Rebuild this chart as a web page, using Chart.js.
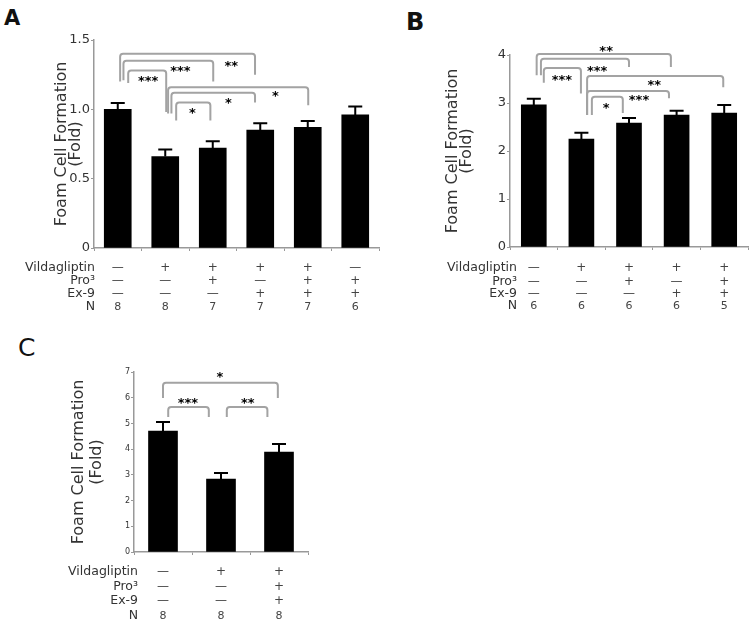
<!DOCTYPE html>
<html>
<head>
<meta charset="utf-8">
<script src="https://cdn.jsdelivr.net/npm/chart.js@4.4.1/dist/chart.umd.min.js"></script>
<style>
  body { margin: 0; background: #fff; width: 755px; height: 627px; position: relative; overflow: hidden; }
  canvas { position: absolute; }
  .panel { position: absolute; font-family: "DejaVu Sans", sans-serif; line-height: 1; color: #111; }
</style>
</head>
<body>
<div class="panel" style="left:4px;top:8px;font-size:21px;font-weight:bold">A</div>
<div class="panel" style="left:406px;top:10px;font-size:24px;font-weight:bold">B</div>
<div class="panel" style="left:18px;top:335px;font-size:25px">C</div>
<canvas id="chart-a" width="380" height="320" style="left:0;top:0"></canvas>
<canvas id="chart-b" width="375" height="320" style="left:380px;top:0"></canvas>
<canvas id="chart-c" width="360" height="307" style="left:0;top:320px"></canvas>
<script>
const rowLabels = ['Vildagliptin', 'Pro³', 'Ex-9', 'N'];
const yTitle = ['Foam Cell Formation', '(Fold)'];

// panel A
const groupsA = ['Control', 'Vilda', 'Vilda+Pro3', 'Vilda+Ex-9', 'Vilda+Pro3+Ex-9', 'Pro3+Ex-9'];
const vildaA = ['—', '+', '+', '+', '+', '—'];
const proA = ['—', '—', '+', '—', '+', '+'];
const exA = ['—', '—', '—', '+', '+', '+'];
const nA = ['8', '8', '7', '7', '7', '6'];
const valuesA = [1.00, 0.66, 0.72, 0.85, 0.87, 0.96];
const errorsA = [0.045, 0.05, 0.05, 0.05, 0.045, 0.06];
const ticksA = [0, 1.5, 0.5];
// [from, to, top, left leg end, right leg end, label x, label y, label]
const bracketsA = [
  [0.05, 2.89, 1.40, 1.20, 1.25, 2.39, 1.34, '**'],
  [0.12, 2.01, 1.35, 1.21, 1.20, 1.32, 1.30, '***'],
  [0.22, 1.02, 1.28, 1.19, 0.98, 0.64, 1.23, '***'],
  [1.06, 4.01, 1.16, 0.97, 1.03, 3.32, 1.12, '*'],
  [1.13, 2.89, 1.12, 0.97, 1.05, 2.33, 1.07, '*'],
  [1.23, 1.95, 1.05, 0.92, 0.92, 1.57, 1.00, '*']
];

// panel B
const groupsB = ['Control', 'Vilda', 'Vilda+Pro3', 'Vilda+Ex-9', 'Vilda+Pro3+Ex-9'];
const vildaB = ['—', '+', '+', '+', '+'];
const proB = ['—', '—', '+', '—', '+'];
const exB = ['—', '—', '—', '+', '+'];
const nB = ['6', '6', '6', '6', '5'];
const valuesB = [2.96, 2.25, 2.58, 2.75, 2.79];
const errorsB = [0.13, 0.13, 0.11, 0.09, 0.17];
const ticksB = [0, 4, 1];
const bracketsB = [
  [0.06, 2.88, 4.02, 3.58, 3.75, 1.52, 4.15, '**'],
  [0.15, 2.00, 3.92, 3.58, 3.75, 1.33, 3.75, '***'],
  [0.21, 0.99, 3.73, 3.42, 3.20, 0.59, 3.56, '***'],
  [1.12, 3.98, 3.56, 2.75, 3.33, 2.53, 3.44, '**'],
  [1.12, 2.84, 3.25, 2.75, 3.10, 2.21, 3.13, '***'],
  [1.22, 1.87, 3.13, 2.75, 2.79, 1.52, 2.96, '*']
];

// panel C
const groupsC = ['Control', 'Vilda', 'Vilda+Pro3+Ex-9'];
const vildaC = ['—', '+', '+'];
const proC = ['—', '—', '+'];
const exC = ['—', '—', '+'];
const nC = ['8', '8', '8'];
const valuesC = [4.70, 2.84, 3.89];
const errorsC = [0.36, 0.23, 0.31];
const ticksC = [0, 7, 1];
const bracketsC = [
  [0.00, 1.98, 6.58, 5.99, 5.99, 0.98, 6.96, '*'],
  [0.09, 0.79, 5.64, 5.25, 5.25, 0.43, 5.95, '***'],
  [1.10, 1.80, 5.64, 5.25, 5.25, 1.46, 5.95, '**']
];

const FONT = '"DejaVu Sans", sans-serif';
Chart.defaults.font.family = FONT;

// error bars (upper only)
const errorBars = {
  id: 'errorBars',
  afterDatasetsDraw(chart, args, opts) {
    const ctx = chart.ctx;
    const y = chart.scales.y;
    const vals = chart.data.datasets[0].data;
    ctx.save();
    ctx.strokeStyle = '#000';
    ctx.lineWidth = 2;
    chart.getDatasetMeta(0).data.forEach((bar, i) => {
      const top = y.getPixelForValue(vals[i] + opts.errors[i]);
      ctx.beginPath();
      ctx.moveTo(bar.x, bar.y);
      ctx.lineTo(bar.x, top);
      ctx.moveTo(bar.x - opts.cap, top);
      ctx.lineTo(bar.x + opts.cap, top);
      ctx.stroke();
    });
    ctx.restore();
  }
};

// significance brackets
const brackets = {
  id: 'brackets',
  afterDraw(chart, args, opts) {
    const ctx = chart.ctx;
    const {x, y} = chart.scales;
    ctx.save();
    ctx.strokeStyle = '#a3a3a3';
    ctx.lineWidth = 2;
    opts.items.forEach(b => {
      const x1 = x.getPixelForValue(b[0]), x2 = x.getPixelForValue(b[1]);
      const yt = y.getPixelForValue(b[2]);
      ctx.beginPath();
      ctx.moveTo(x1, y.getPixelForValue(b[3]));
      ctx.arcTo(x1, yt, x2, yt, 3);
      ctx.arcTo(x2, yt, x2, y.getPixelForValue(b[4]), 3);
      ctx.lineTo(x2, y.getPixelForValue(b[4]));
      ctx.stroke();
    });
    ctx.fillStyle = '#000';
    ctx.font = 'bold 13px ' + FONT;
    ctx.textAlign = 'center';
    ctx.textBaseline = 'alphabetic';
    opts.items.forEach(b => {
      ctx.fillText(b[7], x.getPixelForValue(b[5]), y.getPixelForValue(b[6]) + 7.5);
    });
    ctx.restore();
  }
};

// treatment table under the x axis
const table = {
  id: 'table',
  afterDraw(chart, args, opts) {
    const ctx = chart.ctx;
    const x = chart.scales.x;
    const area = chart.chartArea;
    ctx.save();
    ctx.textBaseline = 'middle';
    opts.rows.forEach((row, r) => {
      const ty = area.bottom + opts.dy[r];
      ctx.font = '12.5px ' + FONT;
      ctx.fillStyle = '#333';
      ctx.textAlign = 'right';
      ctx.fillText(rowLabels[r], area.left + opts.dx, ty);
      ctx.fillStyle = '#444';
      ctx.textAlign = 'center';
      ctx.font = (r === 3 ? '11px ' : '12px ') + FONT;
      row.forEach((s, i) => ctx.fillText(s, x.getPixelForValue(i), ty));
    });
    ctx.restore();
  }
};

function makeChart(id, cfg) {
  return new Chart(document.getElementById(id), {
    type: 'bar',
    data: {
      labels: cfg.groups,
      datasets: [{ data: cfg.values, backgroundColor: '#000', barThickness: cfg.barWidth }]
    },
    plugins: [errorBars, brackets, table],
    options: {
      responsive: false,
      animation: false,
      layout: { padding: cfg.padding },
      plugins: {
        legend: { display: false },
        tooltip: { enabled: false },
        errorBars: { errors: cfg.errors, cap: 7 },
        brackets: { items: cfg.brackets },
        table: { rows: cfg.rows, dx: cfg.labelDx, dy: cfg.rowDy }
      },
      scales: {
        x: {
          grid: { drawOnChartArea: false, tickLength: 3, color: '#999', offset: true },
          border: { color: '#999', width: 1.5 },
          ticks: { display: false },
          afterFit: s => { s.height = cfg.xHeight; }
        },
        y: {
          min: cfg.ticks[0],
          max: cfg.ticks[1],
          ticks: { stepSize: cfg.ticks[2], color: '#333', padding: 1, font: { size: cfg.tickSize } },
          grid: { drawOnChartArea: false, tickLength: 3, color: '#999' },
          border: { color: '#999', width: 1.5 },
          title: {
            display: true,
            text: yTitle,
            color: '#333',
            font: { size: 16, lineHeight: cfg.titleLine },
            padding: { top: cfg.titlePad, bottom: 0 }
          },
          afterFit: s => { s.width = cfg.yWidth; }
        }
      }
    }
  });
}

makeChart('chart-a', {
  groups: groupsA, values: valuesA, errors: errorsA, ticks: ticksA, brackets: bracketsA,
  rows: [vildaA, proA, exA, nA], barWidth: 27,
  padding: { top: 40, right: 1, bottom: 0, left: 0 }, xHeight: 72, yWidth: 94,
  tickSize: 13, titleLine: 0.85, titlePad: 55, labelDx: 1, rowDy: [20, 33, 46, 59]
});

makeChart('chart-b', {
  groups: groupsB, values: valuesB, errors: errorsB, ticks: ticksB, brackets: bracketsB,
  rows: [vildaB, proB, exB, nB], barWidth: 25,
  padding: { top: 55, right: 7, bottom: 0, left: 0 }, xHeight: 73, yWidth: 130,
  tickSize: 13, titleLine: 0.875, titlePad: 66, labelDx: 7, rowDy: [21, 35, 47, 59]
});

makeChart('chart-c', {
  groups: groupsC, values: valuesC, errors: errorsC, ticks: ticksC, brackets: bracketsC,
  rows: [vildaC, proC, exC, nC], barWidth: 29,
  padding: { top: 52, right: 52, bottom: 0, left: 0 }, xHeight: 75, yWidth: 134,
  tickSize: 8, titleLine: 1.125, titlePad: 70, labelDx: 4, rowDy: [20, 35, 49, 64]
});
</script>
</body>
</html>
